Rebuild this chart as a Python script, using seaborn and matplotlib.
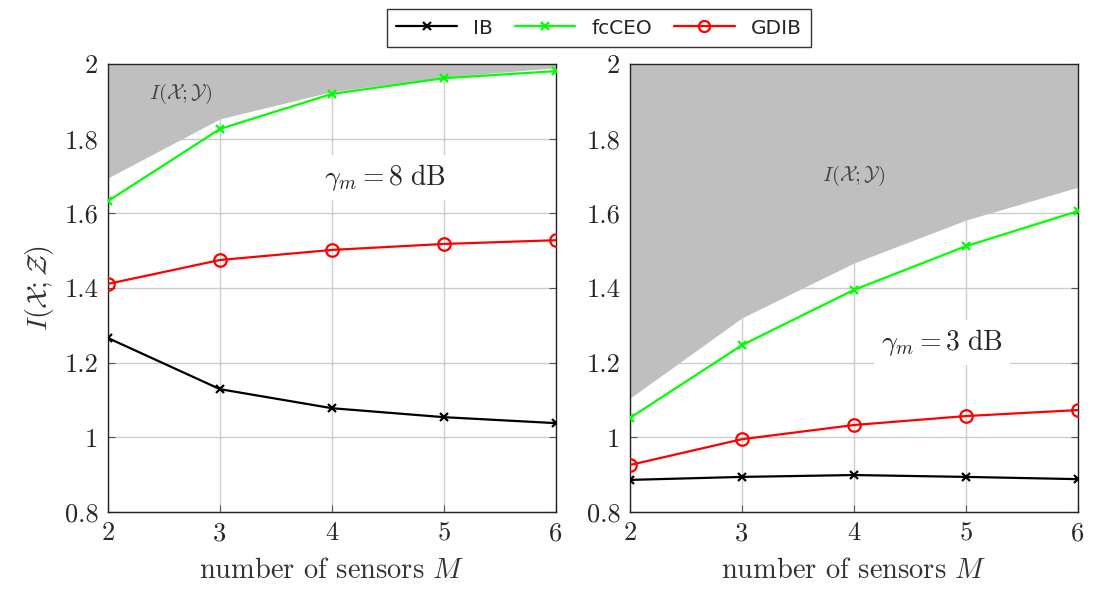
import matplotlib
matplotlib.use("Agg")
import matplotlib.pyplot as plt
import seaborn as sns
import pandas as pd
from matplotlib.lines import Line2D

# ---- data ----
M = [2, 3, 4, 5, 6]
# left panel (gamma_m = 8 dB)
mi_8 = [1.695, 1.853, 1.926, 1.965, 1.990]
fcceo_8 = [1.633, 1.826, 1.920, 1.962, 1.981]
gdib_8 = [1.411, 1.475, 1.502, 1.518, 1.528]
ib_8 = [1.266, 1.129, 1.078, 1.054, 1.038]
# right panel (gamma_m = 3 dB)
mi_3 = [1.105, 1.320, 1.467, 1.582, 1.670]
fcceo_3 = [1.052, 1.247, 1.395, 1.512, 1.606]
gdib_3 = [0.926, 0.995, 1.033, 1.057, 1.073]
ib_3 = [0.886, 0.894, 0.899, 0.894, 0.888]

series_names = ["IB", "fcCEO", "GDIB"]
colors = {"IB": "black", "fcCEO": "#00ff00", "GDIB": "red"}
markers = {"IB": "x", "fcCEO": "x", "GDIB": "o"}
xticks = [2, 3, 4, 5, 6]
yticks = [0.8, 1.0, 1.2, 1.4, 1.6, 1.8, 2.0]
yticklabels = ["0.8", "1", "1.2", "1.4", "1.6", "1.8", "2"]

sns.set_theme(style="white")
plt.rcParams["font.family"] = ["cmr10", "DejaVu Serif"]
plt.rcParams["mathtext.fontset"] = "cm"
plt.rcParams["axes.formatter.use_mathtext"] = True

fig = plt.figure(figsize=(10.93, 5.90), dpi=100)
ax1 = fig.add_axes([108/1093, 1-512/590, 448/1093, 448/590])
ax2 = fig.add_axes([630/1093, 1-512/590, 448/1093, 448/590])

panels = [
    (ax1, mi_8, {"IB": ib_8, "fcCEO": fcceo_8, "GDIB": gdib_8},
     r"$\gamma_m = 8\ \mathrm{dB}$", (4.47, 1.695), (2.65, 1.92)),
    (ax2, mi_3, {"IB": ib_3, "fcCEO": fcceo_3, "GDIB": gdib_3},
     r"$\gamma_m = 3\ \mathrm{dB}$", (4.79, 1.253), (4.0, 1.70)),
]

for ax, mi, data, lbl, lblpos, mipos in panels:
    ax.fill_between(M, mi, 2.0, color="#bfbfbf", linewidth=0, zorder=1)
    for name in series_names:
        df = pd.DataFrame({"M": M, "I": data[name]})
        sns.lineplot(data=df, x="M", y="I", ax=ax, color=colors[name],
                     marker=markers[name], markersize=6 if name != "GDIB" else 9,
                     markeredgewidth=1.6, markerfacecolor="none" if name == "GDIB" else colors[name],
                     markeredgecolor=colors[name], linewidth=1.6, zorder=3)
    ax.set_xlim(2, 6)
    ax.set_ylim(0.8, 2.0)
    ax.set_xticks(xticks)
    ax.set_xticklabels([str(v) for v in xticks])
    ax.set_yticks(yticks)
    ax.set_yticklabels(yticklabels)
    ax.grid(True, color="#cccccc", linewidth=1.0, zorder=0)
    ax.set_axisbelow(True)
    ax.tick_params(direction="in", length=5, width=0.8, color="#555555",
                   labelsize=19, right=True, top=False, bottom=True, left=True, pad=7)
    ax.set_xlabel(r"number of sensors $M$", fontsize=20.5, color="#333333", labelpad=9)
    ax.set_ylabel("")
    for sp in ax.spines.values():
        sp.set_color("#222222")
        sp.set_linewidth(1.0)
    ax.text(lblpos[0], lblpos[1], lbl, fontsize=20, ha="center", va="center",
            bbox=dict(facecolor="white", edgecolor="none", pad=5), zorder=2)
    ax.text(mipos[0], mipos[1], r"$I(\mathcal{X};\mathcal{Y})$", fontsize=15,
            ha="center", va="center", color="#444444", zorder=2)

ax1.set_ylabel(r"$I(\mathcal{X};\mathcal{Z})$", fontsize=20, color="#333333", labelpad=6)

handles = [Line2D([0], [0], color=colors[n], marker=markers[n], linewidth=1.6,
                  markersize=6 if n != "GDIB" else 8, markeredgewidth=1.6,
                  markerfacecolor="none" if n == "GDIB" else colors[n],
                  markeredgecolor=colors[n]) for n in series_names]
leg = fig.legend(handles, series_names, loc="center", bbox_to_anchor=(599/1093, 1-28/590),
                 ncol=3, frameon=True, fancybox=False, handlelength=3,
                 columnspacing=1.1, borderpad=0.45,
                 prop={"family": "DejaVu Sans", "size": 14.5})
leg.get_frame().set_edgecolor("black")
leg.get_frame().set_linewidth(1.0)

fig.savefig("out.png", dpi=100)
